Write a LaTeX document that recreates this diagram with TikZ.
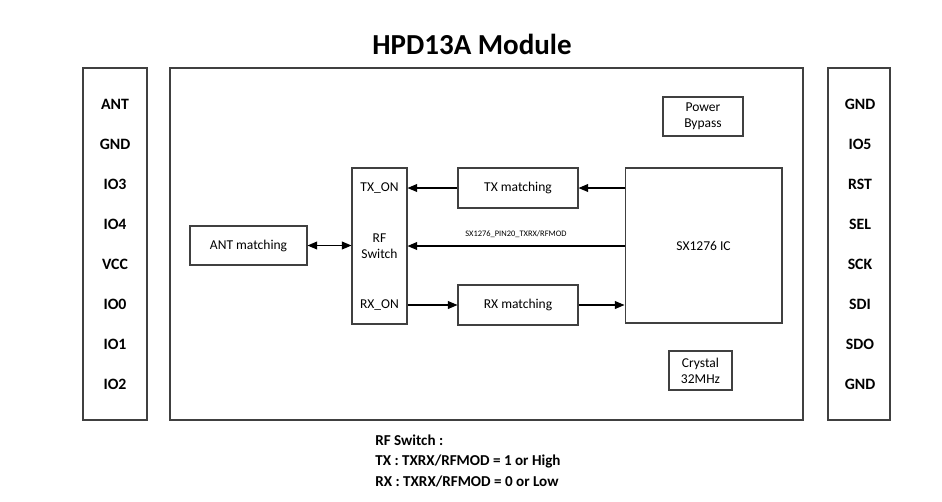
\documentclass[tikz,border=0pt]{standalone}
\usepackage{fontspec}
\setmainfont{Carlito}
\usetikzlibrary{arrows.meta}
\definecolor{lineGray}{HTML}{404040}

\tikzset{
  blk/.style={draw=lineGray, line width=0.6pt, inner sep=0pt, align=center,
              font=\fontsize{7.7}{9.2}\selectfont},
  frame/.style={draw=lineGray, line width=0.8pt, inner sep=0pt},
  pin/.style={font=\fontsize{9}{11}\selectfont\bfseries},
  arr/.style={draw=black, line width=0.6pt, -{Triangle[length=5.5pt,width=4.5pt]}},
  dblarr/.style={draw=black, line width=0.6pt,
                 {Triangle[length=5.5pt,width=4.5pt]}-{Triangle[length=5.5pt,width=4.5pt]}}
}

\begin{document}
\begin{tikzpicture}[x=0.02cm, y=-0.02cm]
\useasboundingbox (0,0) rectangle (942,501);

% title
\node[font=\fontsize{16.5}{19}\selectfont\bfseries] (title) at (472,44) {HPD13A Module};

% outer frames
\node[frame, minimum width=1.28cm, minimum height=7.04cm] (pinsL) at (115,244) {};
\node[frame, minimum width=12.66cm, minimum height=7.04cm] (module) at (486.5,244) {};
\node[frame, minimum width=1.24cm, minimum height=7.04cm] (pinsR) at (859,244) {};

% pin names
\foreach \nm [count=\i] in {ANT,GND,IO3,IO4,VCC,IO0,IO1,IO2}
  \node[pin] (pl\i) at (115,{104.5+(\i-1)*40}) {\nm};
\foreach \nm [count=\i] in {GND,IO5,RST,SEL,SCK,SDI,SDO,GND}
  \node[pin] (pr\i) at (860,{104.5+(\i-1)*40}) {\nm};

% blocks
\node[blk, minimum width=1.6cm, minimum height=0.78cm] (power) at (703,116.5) {Power\\Bypass};
\node[blk, minimum width=3.14cm, minimum height=3.1cm] (sx) at (703.5,245.5) {SX1276 IC};
\node[blk, minimum width=1.26cm, minimum height=0.78cm] (crystal) at (700.5,370.5) {Crystal\\32MHz};
\node[blk, minimum width=2.4cm, minimum height=0.8cm] (txm) at (518,188) {TX matching};
\node[blk, minimum width=2.4cm, minimum height=0.8cm] (rxm) at (518,305) {RX matching};
\node[blk, minimum width=1.1cm, minimum height=3.12cm] (rfsw) at (379.5,246) {};
\node[blk, minimum width=2.34cm, minimum height=0.78cm] (antm) at (248.5,245.5) {ANT matching};

% text inside the switch
\node[blk, draw=none] (txon) at (379.5,188) {TX\_ON};
\node[blk, draw=none] (rflbl) at (379.5,246) {RF\\Switch};
\node[blk, draw=none] (rxon) at (379.5,305) {RX\_ON};

% connectors
\draw[arr] (sx.west |- txm) -- (txm.east);
\draw[arr] (txm.west) -- (rfsw.east |- txm);
\draw[arr] (sx.west |- rfsw) -- (rfsw.east)
  node[midway, above=1pt, font=\fontsize{4.8}{6}\selectfont] (sig) {SX1276\_PIN20\_TXRX/RFMOD};
\draw[arr] (rfsw.east |- rxm) -- (rxm.west);
\draw[arr] (rxm.east) -- (sx.west |- rxm);
\draw[dblarr] (antm.east) -- (antm.east -| rfsw.west);

% note
\node[anchor=north west, align=left, inner sep=0pt,
      font=\fontsize{8.6}{11.6}\selectfont\bfseries] (note) at (375,434.5)
  {RF Switch :\\TX : TXRX/RFMOD = 1 or High\\RX : TXRX/RFMOD = 0 or Low};
\end{tikzpicture}
\end{document}
